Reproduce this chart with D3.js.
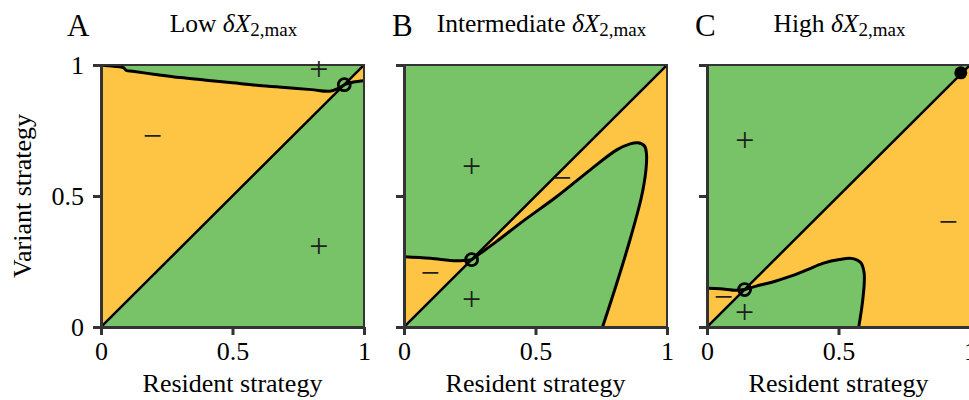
<!DOCTYPE html>
<html>
<head>
<meta charset="utf-8">
<script src="https://cdn.jsdelivr.net/npm/d3@7"></script>
<style>
  body { margin: 0; background: #fff; }
  svg text { font-family: "Liberation Serif", "Times New Roman", serif; }
</style>
</head>
<body>
<svg id="chart" width="969" height="400"></svg>
<script>
// ---- values ----
const tickValues = [0, 0.5, 1];
const panelLetters = ["A", "B", "C"];
const panelLevels = ["Low", "Intermediate", "High"];

// singular strategies on the diagonal (resident = variant)
const singularPoints = [0.925, 0.257, 0.143];

// Panel A: non-trivial invasion boundary, split at the singular strategy
const branchA1 = [[0, 1], [0.05, 0.995], [0.085, 0.99], [0.097, 0.979], [0.12, 0.976], [0.2, 0.965],
                  [0.3, 0.952], [0.4, 0.942], [0.5, 0.932], [0.6, 0.922], [0.7, 0.914], [0.8, 0.906],
                  [0.87, 0.9], [0.9, 0.91], [0.925, 0.925]];
const branchA2 = [[0.925, 0.925], [0.96, 0.935], [1, 0.94]];

// Panel B: left branch and the loop leaving the singular strategy
const leftBranchB = [[0, 0.268], [0.1, 0.262], [0.2, 0.253], [0.257, 0.257]];
const loopB = [[0.257, 0.257], [0.29, 0.281], [0.35, 0.325], [0.454, 0.405], [0.58, 0.497], [0.707, 0.599],
               [0.809, 0.676], [0.86, 0.699], [0.89, 0.703], [0.915, 0.69], [0.922, 0.66], [0.92, 0.6],
               [0.903, 0.497], [0.859, 0.332], [0.809, 0.167], [0.755, 0]];

// Panel C: left branch and the loop leaving the singular strategy
const leftBranchC = [[0, 0.148], [0.05, 0.146], [0.111, 0.14], [0.143, 0.143]];
const loopC = [[0.143, 0.143], [0.187, 0.156], [0.25, 0.172], [0.313, 0.192], [0.38, 0.218], [0.44, 0.243],
               [0.504, 0.258], [0.555, 0.261], [0.585, 0.245], [0.597, 0.21], [0.598, 0.17], [0.594, 0.12],
               [0.588, 0.07], [0.577, 0]];
const extraPointC = [0.965, 0.97];

// invasion-fitness signs: [resident, variant, sign]
const signsA = [[0.828, 0.977, "+"], [0.195, 0.718, "\u2212"], [0.828, 0.298, "+"]];
const signsB = [[0.257, 0.606, "+"], [0.60, 0.561, "\u2212"], [0.099, 0.198, "\u2212"], [0.257, 0.097, "+"]];
const signsC = [[0.144, 0.706, "+"], [0.917, 0.392, "\u2212"], [0.062, 0.106, "\u2212"], [0.143, 0.046, "+"]];

// ---- layout & style ----
const GREEN = "#78c367", ORANGE = "#fec444", INK = "#333333";
const plotLeft = [101, 404, 707];
const plotSize = 263, plotTop = 65, plotBottom = 327;

const svg = d3.select("#chart");

const panels = [
  { signs: signsA, type: "A" },
  { signs: signsB, left: leftBranchB, loop: loopB },
  { signs: signsC, left: leftBranchC, loop: loopC, extra: extraPointC }
];

panels.forEach((p, i) => {
  const x = d3.scaleLinear().domain([0, 1]).range([plotLeft[i], plotLeft[i] + plotSize]);
  const y = d3.scaleLinear().domain([0, 1]).range([plotBottom, plotTop]);
  const lin = d3.line().x(d => x(d[0])).y(d => y(d[1]));
  const smooth = d3.line().x(d => x(d[0])).y(d => y(d[1])).curve(d3.curveCatmullRom.alpha(0.5));
  const s = singularPoints[i];
  const P = (a, b) => `${x(a)},${y(b)}`;
  const rev = arr => arr.slice().reverse();

  const clipId = "plot-clip-" + i;
  svg.append("clipPath").attr("id", clipId)
    .append("rect")
    .attr("x", x(0)).attr("y", y(1))
    .attr("width", x(1) - x(0)).attr("height", y(0) - y(1));

  const area = svg.append("g").attr("clip-path", `url(#${clipId})`);
  area.append("rect")
    .attr("x", x(0)).attr("y", y(1))
    .attr("width", x(1) - x(0)).attr("height", y(0) - y(1))
    .attr("fill", GREEN);

  const regions = [];
  const curves = [];
  if (p.type === "A") {
    regions.push(`M${P(0, 0)}L${P(s, s)}` + smooth(rev(branchA1)).replace(/^M/, "L") + "Z");
    regions.push(smooth(branchA2) + `L${P(1, 1)}Z`);
    curves.push(branchA1, branchA2);
  } else {
    regions.push(smooth(p.left) + `L${P(0, 0)}Z`);
    const end = p.loop[p.loop.length - 1];
    regions.push(`M${P(s, s)}L${P(1, 1)}L${P(1, 0)}L${P(end[0], 0)}` +
                 smooth(rev(p.loop)).replace(/^M/, "L") + "Z");
    curves.push(p.left, p.loop);
  }
  area.selectAll("path.region").data(regions).join("path")
    .attr("class", "region").attr("d", d => d).attr("fill", ORANGE);

  // diagonal: resident = variant
  area.append("path").attr("d", lin([[0, 0], [1, 1]]))
    .attr("stroke", "#000").attr("stroke-width", 2.5).attr("fill", "none");

  area.selectAll("path.curve").data(curves).join("path")
    .attr("class", "curve").attr("d", d => smooth(d))
    .attr("stroke", "#000").attr("stroke-width", 3).attr("fill", "none")
    .attr("stroke-linejoin", "round");

  // frame
  svg.append("rect")
    .attr("x", x(0)).attr("y", y(1))
    .attr("width", x(1) - x(0)).attr("height", y(0) - y(1))
    .attr("fill", "none").attr("stroke", INK).attr("stroke-width", 2);

  // singular strategy marker
  svg.append("circle").attr("cx", x(s)).attr("cy", y(s)).attr("r", 6)
    .attr("fill", "none").attr("stroke", "#000").attr("stroke-width", 2.8);
  if (p.extra) {
    svg.append("circle").attr("cx", x(p.extra[0])).attr("cy", y(p.extra[1])).attr("r", 6.5)
      .attr("fill", "#000");
  }

  // signs
  svg.selectAll(null).data(p.signs).join("text")
    .attr("x", d => x(d[0])).attr("y", d => y(d[1]) + 8.5)
    .attr("text-anchor", "middle").attr("font-size", 34).attr("fill", "#1e1e1e")
    .text(d => d[2]);

  // axes
  const xAxis = svg.append("g").attr("transform", `translate(0,${plotBottom})`)
    .call(d3.axisBottom(x).tickValues(tickValues).tickSize(8).tickSizeOuter(0)
      .tickPadding(7).tickFormat(d3.format("~g")));
  const yAxis = svg.append("g").attr("transform", `translate(${plotLeft[i]},0)`)
    .call(d3.axisLeft(y).tickValues(tickValues).tickSize(8).tickSizeOuter(0)
      .tickPadding(9).tickFormat(i === 0 ? d3.format("~g") : () => ""));
  [xAxis, yAxis].forEach(a => {
    a.attr("font-family", null).attr("font-size", 26);
    a.select(".domain").attr("stroke", INK).attr("stroke-width", 3);
    a.selectAll(".tick line").attr("stroke", INK).attr("stroke-width", 3);
    a.selectAll(".tick text").attr("fill", "#000");
  });

  // axis title
  svg.append("text").attr("x", (x(0) + x(1)) / 2).attr("y", 392)
    .attr("text-anchor", "middle").attr("font-size", 26).text("Resident strategy");

  // panel letter and heading
  svg.append("text").attr("x", plotLeft[i] - (i === 0 ? 34 : 12)).attr("y", 36)
    .attr("font-size", 31).text(panelLetters[i]);
  const h = svg.append("text").attr("x", (x(0) + x(1)) / 2 + (i === 1 ? 6 : 1)).attr("y", 32)
    .attr("text-anchor", "middle").attr("font-size", 25.5);
  h.append("tspan").text(panelLevels[i] + " ");
  h.append("tspan").attr("font-style", "italic").text("\u03b4X");
  h.append("tspan").attr("font-size", 19).attr("dy", 4).text("2,max");
});

svg.append("text")
  .attr("transform", `translate(31,${(plotTop + plotBottom) / 2}) rotate(-90)`)
  .attr("text-anchor", "middle").attr("font-size", 26).text("Variant strategy");
</script>
</body>
</html>
